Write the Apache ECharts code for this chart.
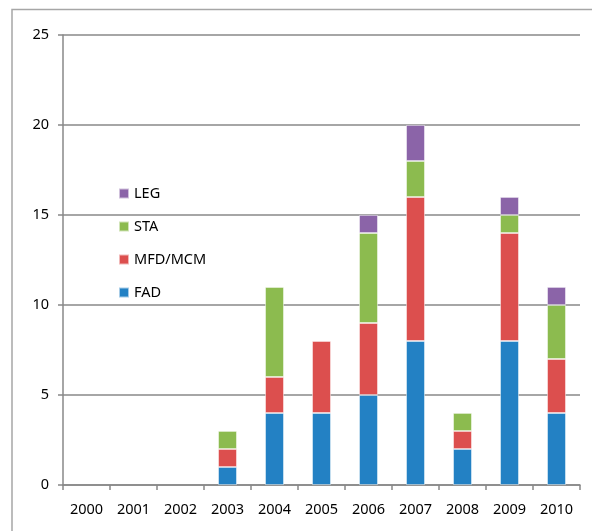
<!DOCTYPE html>
<html><head><meta charset="utf-8">
<script src="https://cdn.jsdelivr.net/npm/echarts@6/dist/echarts.min.js"></script>
<style>html,body{margin:0;padding:0;background:#fff}#c{width:592px;height:531px}</style>
</head><body><div id="c"></div>
<script>
const years = ['2000','2001','2002','2003','2004','2005','2006','2007','2008','2009','2010'];
const FAD = [0,0,0,1,4,4,5,8,2,8,4];
const MFD = [0,0,0,1,2,4,4,8,1,6,3];
const STA = [0,0,0,1,5,0,5,2,1,1,3];
const LEG = [0,0,0,0,0,0,1,2,0,1,1];
const yTicks = [0,5,10,15,20,25];

const chart = echarts.init(document.getElementById('c'));
const font = 'Noto Sans';
function ser(name, data, color){
  return {name, type:'bar', stack:'t', data: data.map(v=>v===0?null:v), barWidth:'40%',
    itemStyle:{color, borderColor:'rgba(255,255,255,0.6)', borderWidth:0.8}};
}
chart.setOption({
  animation:false,
  textStyle:{fontFamily:font},
  graphic:[{type:'polyline', shape:{points:[[12,531],[12,9.5],[592,9.5]]}, style:{stroke:'#a6a6a6', lineWidth:1.5, fill:null}}],
  grid:{left:63, right:12, top:35, bottom:46},
  legend:{orient:'vertical', left:118, top:186, padding:0, itemWidth:10, itemHeight:10, itemGap:18, icon:'rect',
    data:['LEG','STA','MFD/MCM','FAD'], textStyle:{fontFamily:font, fontSize:14.5, color:'#000', padding:[0,0,0,0]}},
  xAxis:{type:'category', data:years, boundaryGap:true,
    axisLine:{lineStyle:{color:'#888', width:1.5}},
    axisTick:{show:true, length:5, interval:0, lineStyle:{color:'#888', width:1.5}},
    axisLabel:{color:'#000', fontSize:14.5, fontFamily:font, margin:17, interval:0}},
  yAxis:{type:'value', min:0, max:25, interval:5,
    axisLine:{show:true, lineStyle:{color:'#888', width:1.5}},
    axisTick:{show:true, length:5, lineStyle:{color:'#888', width:1.5}},
    splitLine:{lineStyle:{color:'#888', width:1.5}},
    axisLabel:{color:'#000', fontSize:14.5, fontFamily:font, margin:14,
      formatter:v=>yTicks.includes(v)?String(v):''}},
  series:[ser('FAD',FAD,'#2381c4'), ser('MFD/MCM',MFD,'#dc4f4e'), ser('STA',STA,'#8cbb4f'), ser('LEG',LEG,'#8b64a8')]
});
</script></body></html>
